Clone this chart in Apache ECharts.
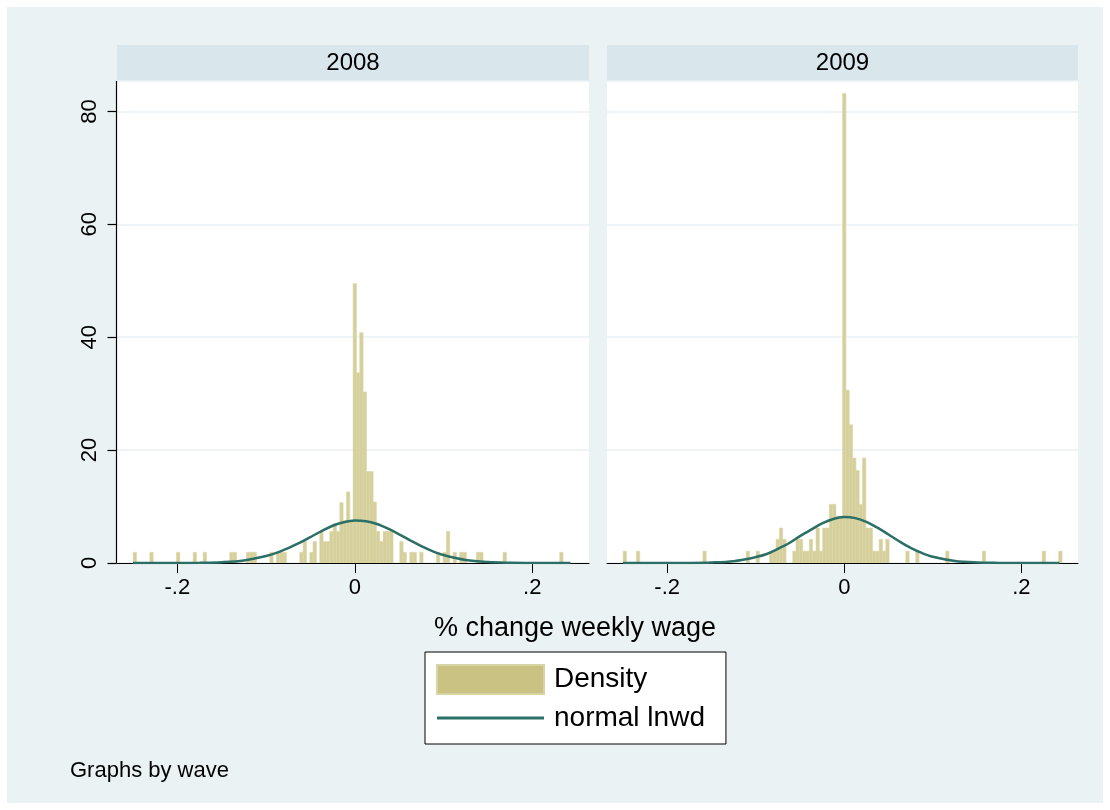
<!DOCTYPE html>
<html><head><meta charset="utf-8">
<script src="https://cdn.jsdelivr.net/npm/echarts@6/dist/echarts.min.js"></script>
<style>html,body{margin:0;padding:0;background:#fff;}#c{width:1110px;height:810px;}</style>
</head><body><div id="c"></div>
<script>
// ---------- data ----------
const panelTitles = ['2008', '2009'];
const binWidth = 0.00376;
const binX2008 = [-0.2479,-0.2291,-0.1991,-0.1803,-0.1690,-0.1390,-0.1352,-0.1202,-0.1164,-0.1127,-0.0939,-0.0864,-0.0826,-0.0789,-0.0601,-0.0563,-0.0488,-0.0451,-0.0376,-0.0338,-0.0300,-0.0263,-0.0225,-0.0188,-0.0150,-0.0113,-0.0075,-0.0038,0.0000,0.0038,0.0075,0.0113,0.0150,0.0188,0.0225,0.0263,0.0300,0.0338,0.0376,0.0413,0.0526,0.0563,0.0639,0.0676,0.0751,0.0939,0.1014,0.1052,0.1127,0.1202,0.1239,0.1390,0.1427,0.1690,0.2329];
const density2008 = [1.9,1.9,1.9,1.9,1.9,1.9,1.9,1.9,1.9,1.9,1.9,1.9,1.9,1.9,1.9,3.8,1.9,3.8,5.6,3.8,3.8,5.6,7.0,5.6,10.7,7.5,12.6,7.5,49.5,33.7,40.8,30.3,16.2,16.2,10.8,5.6,3.8,5.6,5.6,5.6,3.8,1.9,1.9,1.9,1.9,1.9,1.9,5.6,1.9,1.9,1.9,1.9,1.9,1.9,1.9];
const binX2009 = [-0.2479,-0.2329,-0.1578,-0.1089,-0.0977,-0.0826,-0.0789,-0.0751,-0.0714,-0.0676,-0.0563,-0.0526,-0.0488,-0.0451,-0.0413,-0.0376,-0.0338,-0.0300,-0.0263,-0.0225,-0.0188,-0.0150,-0.0113,-0.0075,-0.0038,0.0000,0.0038,0.0075,0.0113,0.0150,0.0188,0.0225,0.0263,0.0300,0.0338,0.0376,0.0413,0.0451,0.0488,0.0714,0.0826,0.1164,0.1578,0.2254,0.2441];
const density2009 = [2.1,2.1,2.1,2.1,2.1,2.1,2.1,4.2,6.2,4.2,2.1,4.2,4.2,2.1,2.1,4.2,2.1,6.2,2.1,6.2,6.2,10.4,10.4,8.3,8.3,83.2,30.6,24.5,18.6,16.4,10.4,18.6,6.2,6.2,2.1,2.1,4.2,2.1,4.2,2.1,2.1,2.1,2.1,2.1,2.1];
const curveX = [-0.25,-0.225,-0.2,-0.175,-0.15,-0.125,-0.1,-0.0875,-0.075,-0.0625,-0.05,-0.0375,-0.025,-0.0125,0,0.0125,0.025,0.0375,0.05,0.0625,0.075,0.0875,0.1,0.125,0.15,0.175,0.2,0.225,0.243];
const normal2008 = [0,0,0.01,0.04,0.14,0.45,1.25,1.85,2.65,3.55,4.6,5.65,6.6,7.22,7.52,7.41,6.91,6.09,5.08,4.01,2.99,2.11,1.41,0.53,0.16,0.04,0.01,0,0];
const normal2009 = [0,0,0.01,0.02,0.09,0.33,1.05,1.6,2.5,3.5,4.75,5.9,7.0,7.8,8.13,7.95,7.29,6.26,5.04,3.8,2.68,1.78,1.1,0.35,0.09,0.02,0,0,0];
const xTicks = [-0.2, 0, 0.2];
const yTicks = [0, 20, 40, 60, 80];

// ---------- chart ----------
const FONT = 'Liberation Sans, Arial, sans-serif';
const BAR_FILL = '#D5CF9B', BAR_STROKE = '#DBD6AA';
const LINE_COLOR = '#2B6F66';
const X_MIN = -0.268, X_MAX = 0.264, Y_MAX = 85.4;
const chart = echarts.init(document.getElementById('c'), null, {renderer: 'canvas'});

function renderBars(params, api) {
  const x = api.value(0), h = api.value(1);
  const p0 = api.coord([x - binWidth / 2, h]);
  const p1 = api.coord([x + binWidth / 2, 0]);
  return {
    type: 'rect',
    shape: {x: p0[0], y: p0[1], width: p1[0] - p0[0], height: p1[1] - p0[1]},
    style: {fill: BAR_FILL, stroke: BAR_STROKE, lineWidth: 0.6}
  };
}
const tickFmt = v => String(v).replace('0.', '.');

const grids = [
  {left: 117, top: 81, width: 472, height: 482},
  {left: 607, top: 81, width: 471, height: 482}
];

function xAxis(i) {
  return {
    type: 'value', gridIndex: i, min: X_MIN, max: X_MAX, position: 'bottom',
    axisLine: {show: true, onZero: false, lineStyle: {color: '#000', width: 1}},
    axisTick: {show: true, length: 10, customValues: xTicks, lineStyle: {color: '#000', width: 1}},
    axisLabel: {customValues: xTicks, formatter: tickFmt, fontSize: 22, color: '#000', margin: 14, fontFamily: FONT},
    splitLine: {show: false}
  };
}
function yAxis(i) {
  return {
    type: 'value', gridIndex: i, min: 0, max: Y_MAX, interval: 20, position: 'left',
    axisLine: {show: false, onZero: false},
    axisTick: {show: false},
    axisLabel: {show: i === 0, customValues: yTicks, rotate: 90, fontSize: 22, color: '#000', margin: 16, fontFamily: FONT},
    splitLine: {show: true, lineStyle: {color: '#EAF2F3', width: 1.5}}
  };
}

const barSets = [[binX2008, density2008], [binX2009, density2009]];
const curveSets = [normal2008, normal2009];
const series = [];
barSets.forEach((s, i) => {
  series.push({
    type: 'custom', name: 'Density', xAxisIndex: i, yAxisIndex: i,
    renderItem: renderBars, encode: {x: 0, y: 1}, clip: true,
    itemStyle: {color: '#C9C283'},
    data: s[0].map((x, j) => [x, s[1][j]])
  });
});
curveSets.forEach((c, i) => {
  series.push({
    type: 'line', name: 'normal lnwd', xAxisIndex: i, yAxisIndex: i,
    symbol: 'none', smooth: 0.35, z: 5,
    lineStyle: {color: LINE_COLOR, width: 2.5}, itemStyle: {color: LINE_COLOR},
    data: curveX.map((x, j) => [x, c[j]])
  });
});

const graphic = [
  {type: 'rect', z: -10, silent: true, shape: {x: 7, y: 7, width: 1096, height: 796}, style: {fill: '#EAF2F3'}}
];
grids.forEach((g, i) => {
  graphic.push({type: 'rect', z: -9, silent: true, shape: {x: g.left, y: g.top, width: g.width, height: g.height}, style: {fill: '#ffffff'}});
  graphic.push({type: 'rect', shape: {x: g.left, y: 45, width: g.width, height: 36}, style: {fill: '#D9E6EB'}});
  graphic.push({type: 'text', x: g.left + g.width / 2, y: 63,
    style: {text: panelTitles[i], fontSize: 24, fontFamily: FONT, fill: '#000', align: 'center', verticalAlign: 'middle'}});
});
graphic.push({type: 'text', x: 575, y: 629,
  style: {text: '% change weekly wage', fontSize: 27, fontFamily: FONT, fill: '#000', align: 'center', verticalAlign: 'middle'}});
graphic.push({type: 'text', x: 70, y: 771,
  style: {text: 'Graphs by wave', fontSize: 22, fontFamily: FONT, fill: '#000', align: 'left', verticalAlign: 'middle'}});

chart.setOption({
  animation: false,
  backgroundColor: '#ffffff',
  textStyle: {fontFamily: FONT},
  grid: grids.map(g => Object.assign({show: false}, g)),
  xAxis: [xAxis(0), xAxis(1)],
  yAxis: [yAxis(0), yAxis(1)],
  legend: {
    left: 425, top: 652, orient: 'vertical', selectedMode: false,
    itemWidth: 107, itemHeight: 29, itemGap: 9,
    padding: [12, 21, 12, 11],
    borderColor: '#000', borderWidth: 1, backgroundColor: '#fff',
    textStyle: {fontSize: 28, color: '#000', fontFamily: FONT, padding: [0, 0, 0, 5]},
    data: [
      {name: 'Density', icon: 'rect', itemStyle: {color: '#C9C283', borderColor: '#D9D4A6', borderWidth: 2}},
      {name: 'normal lnwd', icon: 'path://M0,0 L107,0 L107,3 L0,3 Z', itemStyle: {color: LINE_COLOR, borderWidth: 0}}
    ]
  },
  graphic: graphic,
  series: series
});

// y axis line and ticks of the left panel, placed through the library's own scales (snapped to pixels)
const crisp = v => Math.round(v) - 0.5;
const axX = crisp(chart.convertToPixel({xAxisIndex: 0}, X_MIN));
const axTop = chart.convertToPixel({yAxisIndex: 0}, Y_MAX);
const axBot = chart.convertToPixel({yAxisIndex: 0}, 0);
const axisMarks = [{type: 'line', z: 10, silent: true,
  shape: {x1: axX, y1: axTop, x2: axX, y2: axBot + 0.5}, style: {stroke: '#000', lineWidth: 1.2}}];
yTicks.forEach(v => {
  const y = crisp(chart.convertToPixel({yAxisIndex: 0}, v)) + 1;
  axisMarks.push({type: 'line', z: 10, silent: true,
    shape: {x1: axX - 9, y1: y, x2: axX, y2: y}, style: {stroke: '#000', lineWidth: 1.2}});
});
chart.setOption({graphic: graphic.concat(axisMarks)});
</script></body></html>
